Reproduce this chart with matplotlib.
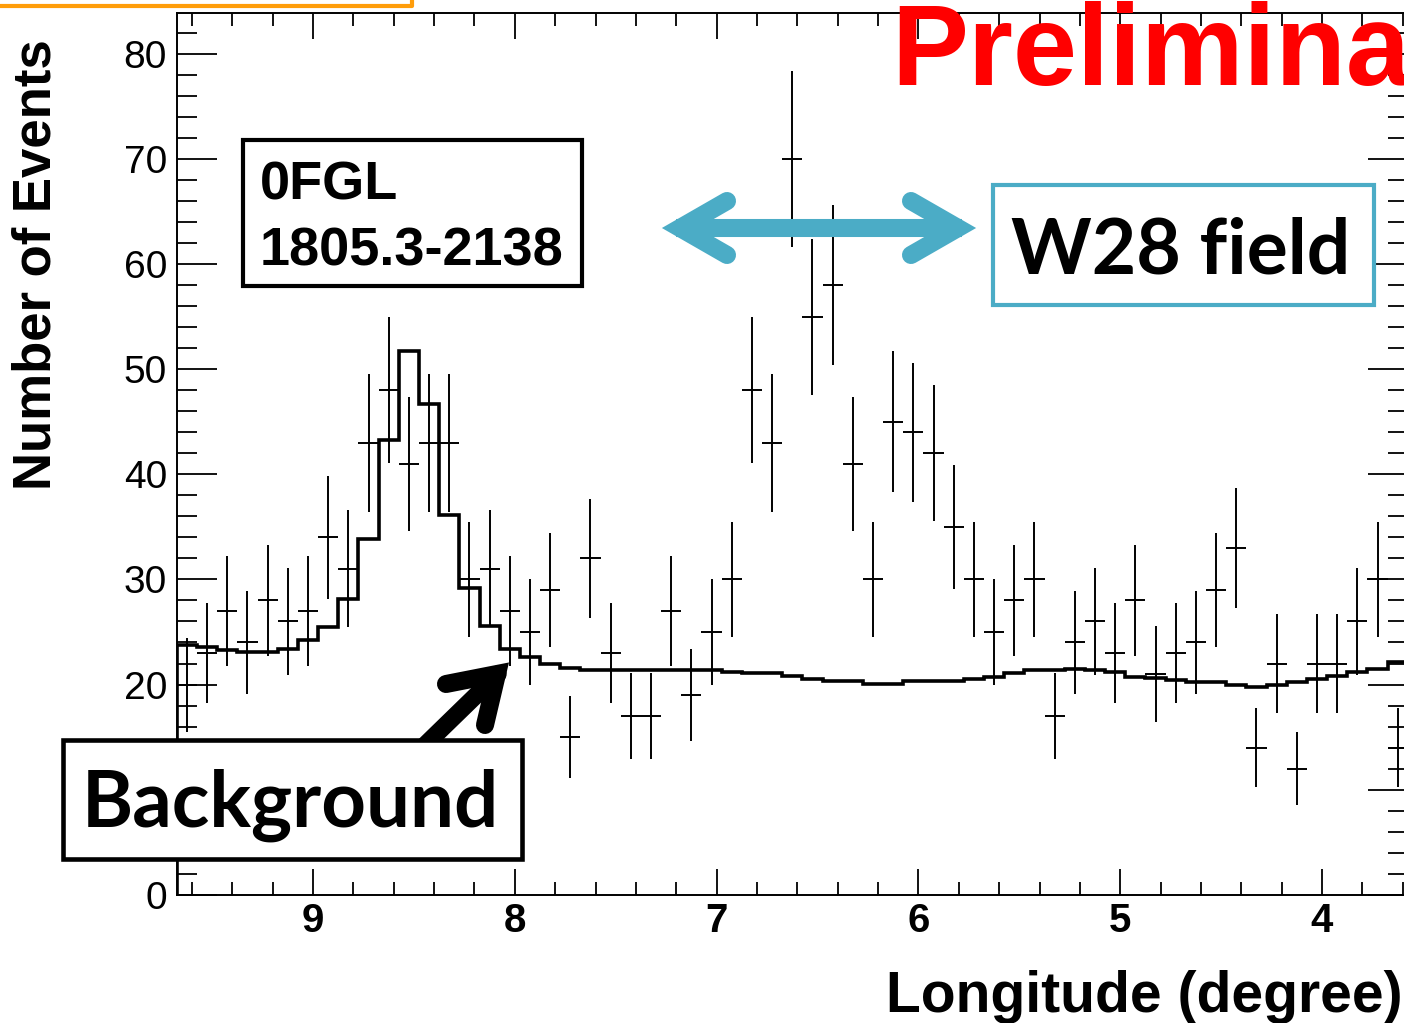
import numpy as np
import matplotlib
matplotlib.use("Agg")
import matplotlib.pyplot as plt
from matplotlib.lines import Line2D
from matplotlib.patches import Rectangle
from matplotlib.ticker import MultipleLocator

plt.rcParams["font.family"] = ["Liberation Sans", "DejaVu Sans"]

W, H = 1404, 1023

# event counts per 0.1 deg longitude bin, from l = 9.675 down to 3.575
counts = [20, 23, 27, 24, 28, 26, 27, 34, 31, 43,
          48, 41, 43, 43, 30, 31, 27, 25, 29, 15,
          32, 23, 17, 17, 27, 19, 25, 30, 48, 43,
          70, 55, 58, 41, 30, 45, 44, 42, 35, 30,
          25, 28, 30, 17, 24, 26, 23, 28, 21, 23,
          24, 29, 33, 14, 22, 12, 22, 22, 26, 30,
          14]

# expected background in the same bins
background = [23.8, 23.6, 23.3, 23.1, 23.1, 23.4, 24.2, 25.5, 28.1, 33.8,
              43.3, 51.7, 46.7, 36.1, 29.2, 25.6, 23.4, 22.6, 22.0, 21.6,
              21.4, 21.4, 21.4, 21.4, 21.4, 21.4, 21.4, 21.2, 21.1, 21.1,
              20.8, 20.55, 20.3, 20.3, 20.05, 20.05, 20.3, 20.3, 20.3, 20.5,
              20.7, 21.1, 21.4, 21.4, 21.5, 21.4, 21.2, 20.7, 20.6, 20.4,
              20.2, 20.2, 20.0, 19.8, 20.0, 20.2, 20.5, 20.8, 21.2, 21.5,
              22.1]

l_max, l_min, bin_w = 9.675, 3.575, 0.1
edges = np.round(np.linspace(l_min, l_max, len(counts) + 1), 3)
centers = (edges[:-1] + edges[1:]) / 2
counts = np.array(counts[::-1], dtype=float)
background = np.array(background[::-1])


def fx(x):
    return x / W


def fy(y):
    return 1 - y / H


fig = plt.figure(figsize=(W / 100, H / 100), dpi=100)
ax = fig.add_axes([fx(176.8), fy(894.7), 1231 / W, 881.7 / H])

ax.errorbar(centers, counts, xerr=bin_w / 2, yerr=np.sqrt(counts), fmt="none",
            ecolor="black", elinewidth=1.4, capsize=0)
ax.stairs(background, edges, color="black", linewidth=2.6)

ax.set_xlim(l_max, l_min)
ax.set_ylim(0, 83.9)
ax.xaxis.set_major_locator(MultipleLocator(1))
ax.xaxis.set_minor_locator(MultipleLocator(0.2))
ax.yaxis.set_major_locator(MultipleLocator(10))
ax.yaxis.set_minor_locator(MultipleLocator(2))
ax.tick_params(which="both", direction="in", top=True, right=True, width=1.3)
ax.tick_params(axis="x", which="major", length=18.5, pad=5, labelsize=29)
ax.tick_params(axis="x", which="minor", length=9.5)
ax.tick_params(axis="y", which="major", length=29, pad=7, labelsize=28)
ax.tick_params(axis="y", which="minor", length=14.5)
for lab in ax.get_xticklabels():
    lab.set_fontweight("bold")
for sp in ax.spines.values():
    sp.set_linewidth(1.4)

fig.text(fx(37), fy(265), "Number of Events", rotation=90, ha="center", va="center",
         fontsize=38, fontweight="bold")
fig.text(fx(1403), fy(1012), "Longitude (degree)", ha="right", va="baseline",
         fontsize=41, fontweight="bold")
fig.text(fx(891), fy(85), "Preliminary", ha="left", va="baseline", color="#ff0000",
         fontsize=83, fontweight="bold", zorder=10)

# orange frame edge along the top
fig.add_artist(Line2D([fx(0), fx(412), fx(412)], [fy(5.5), fy(5.5), fy(0)],
                      color="#ff9d0a", linewidth=3))

# black arrow pointing at the background curve
arr_kw = dict(color="black", solid_capstyle="round", solid_joinstyle="miter", zorder=9)
fig.add_artist(Line2D([fx(424), fx(498)], [fy(746), fy(674)], linewidth=12.5, **arr_kw))
fig.add_artist(Line2D([fx(446), fx(497), fx(485)], [fy(684), fy(674), fy(725)],
                      linewidth=13, **arr_kw))

# blue double arrow marking the field
blue = "#4bacc6"
arr_kw = dict(color=blue, solid_capstyle="round", solid_joinstyle="miter", zorder=9)
fig.add_artist(Line2D([fx(676), fx(962)], [fy(228), fy(228)], linewidth=13,
                      color=blue, solid_capstyle="butt", zorder=9))
fig.add_artist(Line2D([fx(727), fx(680), fx(727)], [fy(201), fy(228), fy(255)],
                      linewidth=13, **arr_kw))
fig.add_artist(Line2D([fx(911), fx(958), fx(911)], [fy(201), fy(228), fy(255)],
                      linewidth=13, **arr_kw))


def box(x0, y0, x1, y1, color, lw):
    fig.add_artist(Rectangle((fx(x0), fy(y1)), fx(x1) - fx(x0), fy(y0) - fy(y1),
                             facecolor="white", edgecolor=color, linewidth=lw,
                             zorder=10))


def fit_width(t, width):
    r = fig.canvas.get_renderer()
    bb = t.get_window_extent(renderer=r)
    t.set_fontsize(t.get_fontsize() * width / bb.width)


box(243, 140, 582, 286, "black", 3)
fig.text(fx(260), fy(200), "0FGL", fontsize=39, fontweight="bold", va="baseline",
         zorder=11)
fig.text(fx(260), fy(265), "1805.3-2138", fontsize=39, fontweight="bold",
         va="baseline", zorder=11)

box(63, 740, 522, 859, "black", 3.3)
t = fig.text(fx(82), fy(827), "Background", fontsize=60, fontweight="bold",
             family=["Lato", "DejaVu Sans"], va="baseline", zorder=11)
fit_width(t, 418)

box(993, 185, 1374, 305, blue, 3)
t = fig.text(fx(1011), fy(273), "W28 field", fontsize=60, fontweight="bold",
             family=["Lato", "DejaVu Sans"], va="baseline", zorder=11)
fit_width(t, 340)

fig.savefig("out.png", dpi=100)
